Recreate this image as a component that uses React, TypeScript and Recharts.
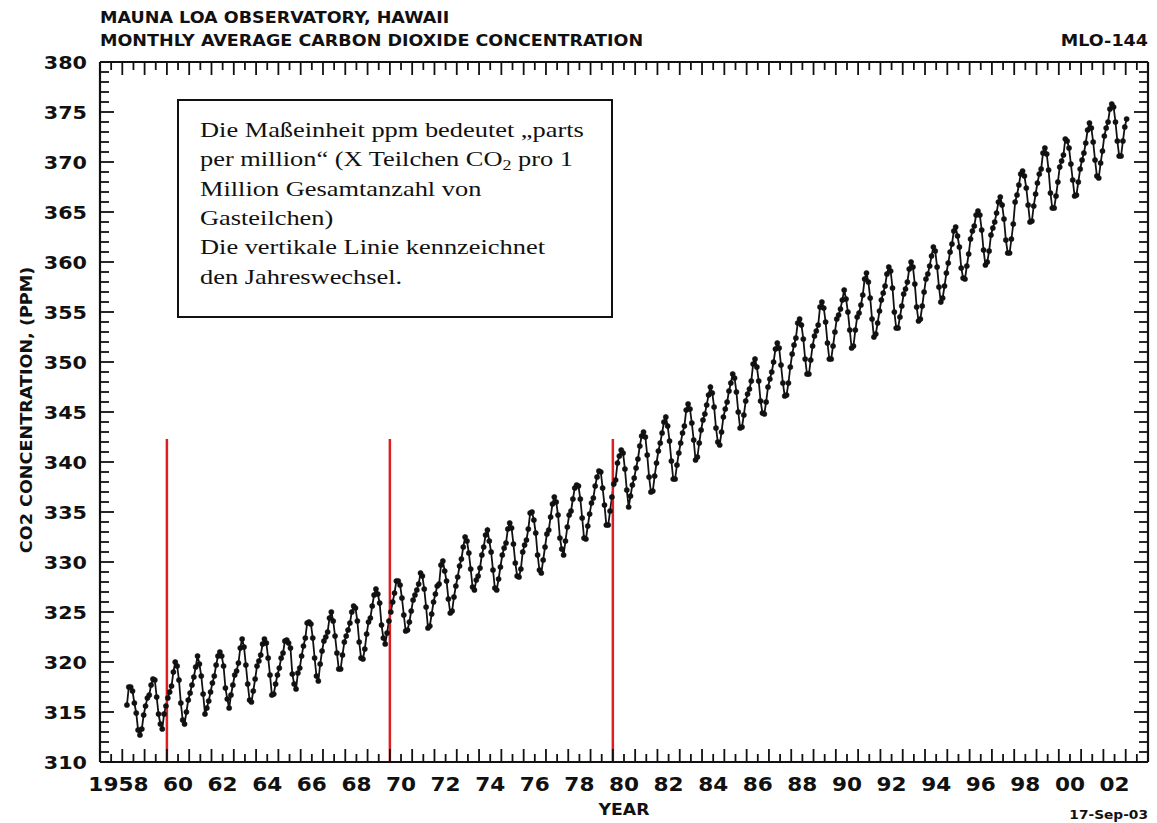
import React from 'react';
import { LineChart, Line, XAxis, YAxis, ReferenceLine } from 'recharts';

// Monthly average CO2 (ppm) at Mauna Loa. 1958 starts in March.
const y1958 = [315.7, 317.5, 317.5, 317.1, 315.9, 314.9, 313.2, 312.7, 313.3, 314.7];
const y1959 = [315.6, 316.4, 316.7, 317.7, 318.3, 318.2, 316.5, 314.8, 313.8, 313.3, 314.8, 315.6];
const y1960 = [316.4, 317.0, 317.6, 319.0, 320.0, 319.6, 318.2, 315.9, 314.2, 313.8, 315.0, 316.2];
const y1961 = [316.9, 317.7, 318.5, 319.5, 320.6, 319.8, 318.6, 316.8, 314.8, 315.4, 316.1, 317.0];
const y1962 = [317.9, 318.6, 319.7, 320.6, 321.0, 320.6, 319.6, 317.4, 316.3, 315.4, 316.7, 317.7];
const y1963 = [318.7, 319.1, 319.9, 321.4, 322.3, 321.5, 319.7, 317.8, 316.2, 316.0, 317.1, 318.3];
const y1964 = [319.6, 320.1, 320.7, 321.8, 322.3, 321.9, 320.4, 318.7, 316.7, 316.8, 317.8, 318.7];
const y1965 = [319.4, 320.4, 320.9, 322.1, 322.2, 321.9, 321.4, 318.8, 317.8, 317.3, 318.9, 319.4];
const y1966 = [320.6, 321.6, 322.4, 323.9, 324.0, 323.8, 322.4, 320.4, 318.6, 318.1, 319.8, 321.1];
const y1967 = [322.1, 322.5, 323.0, 324.4, 325.0, 324.1, 322.6, 320.9, 319.3, 319.3, 320.7, 322.0];
const y1968 = [322.6, 323.2, 323.9, 325.0, 325.6, 325.4, 324.1, 322.0, 320.4, 320.3, 321.3, 322.8];
const y1969 = [324.0, 324.4, 325.6, 326.7, 327.3, 326.8, 325.9, 323.7, 322.4, 321.8, 322.9, 324.1];
const y1970 = [325.0, 326.0, 326.9, 328.1, 328.1, 327.7, 326.4, 324.7, 323.1, 323.2, 324.0, 325.1];
const y1971 = [326.2, 326.7, 327.2, 327.8, 328.9, 328.6, 327.3, 325.5, 323.4, 323.6, 324.8, 326.0];
const y1972 = [326.8, 327.6, 327.8, 329.7, 330.1, 329.1, 328.1, 326.3, 324.9, 325.1, 326.5, 327.6];
const y1973 = [328.5, 329.6, 330.3, 331.5, 332.5, 332.1, 330.9, 329.3, 327.5, 327.2, 328.2, 328.6];
const y1974 = [329.4, 330.7, 331.5, 332.7, 333.2, 332.1, 331.0, 329.2, 327.4, 327.2, 328.3, 329.5];
const y1975 = [330.7, 331.4, 331.9, 333.3, 333.9, 333.4, 331.8, 329.9, 328.6, 328.5, 329.3, 331.0];
const y1976 = [331.7, 332.2, 333.3, 334.9, 335.0, 334.2, 332.9, 330.7, 329.2, 328.9, 330.2, 331.5];
const y1977 = [332.8, 333.2, 334.5, 335.8, 336.5, 336.0, 334.7, 332.4, 331.3, 330.7, 332.1, 333.5];
const y1978 = [334.7, 335.1, 336.3, 337.4, 337.7, 337.6, 336.3, 334.4, 332.4, 332.3, 333.6, 334.8];
const y1979 = [335.9, 336.4, 337.6, 338.5, 339.1, 339.0, 337.4, 335.7, 333.7, 333.7, 335.1, 336.5];
const y1980 = [337.8, 338.2, 339.9, 340.6, 341.2, 340.9, 339.3, 337.2, 335.5, 336.6, 337.7, 338.4];
const y1981 = [339.4, 340.3, 341.6, 342.6, 343.0, 342.5, 340.7, 338.5, 337.0, 337.1, 338.6, 339.9];
const y1982 = [341.1, 341.9, 342.9, 344.0, 344.5, 343.6, 342.1, 340.1, 338.3, 338.3, 339.7, 340.9];
const y1983 = [341.9, 342.9, 343.6, 345.2, 345.8, 345.3, 343.9, 342.2, 340.2, 340.5, 341.9, 343.2];
const y1984 = [344.2, 344.8, 345.7, 346.7, 347.5, 346.9, 345.5, 343.4, 342.0, 341.7, 343.0, 344.5];
const y1985 = [345.3, 346.0, 347.1, 347.9, 348.8, 348.4, 347.0, 345.0, 343.4, 343.5, 344.7, 346.1];
const y1986 = [346.8, 347.3, 348.1, 349.8, 350.3, 349.5, 348.1, 346.1, 344.9, 344.8, 346.0, 347.5];
const y1987 = [348.3, 349.0, 350.0, 351.3, 351.9, 351.4, 349.7, 347.9, 346.6, 346.7, 347.9, 349.5];
const y1988 = [350.8, 351.7, 352.4, 353.9, 354.3, 353.7, 352.3, 350.3, 348.8, 348.8, 350.2, 351.6];
const y1989 = [352.6, 353.1, 353.7, 355.5, 356.0, 355.4, 354.0, 351.9, 350.3, 350.3, 351.6, 353.0];
const y1990 = [354.3, 354.7, 355.3, 356.2, 357.2, 356.3, 355.0, 353.2, 351.4, 351.6, 353.2, 354.5];
const y1991 = [354.9, 355.7, 356.7, 358.3, 358.9, 358.0, 356.4, 354.3, 352.5, 352.8, 353.9, 355.1];
const y1992 = [356.2, 356.9, 357.6, 358.8, 359.5, 359.1, 357.4, 355.0, 353.4, 353.4, 354.5, 355.6];
const y1993 = [356.8, 357.3, 358.0, 359.3, 360.0, 359.5, 357.8, 355.5, 354.1, 354.3, 355.6, 357.0];
const y1994 = [358.3, 358.8, 359.6, 360.6, 361.5, 361.1, 359.5, 357.5, 356.0, 356.4, 357.6, 358.9];
const y1995 = [359.9, 361.0, 361.8, 363.1, 363.5, 362.6, 361.5, 359.4, 358.4, 358.3, 359.6, 360.8];
const y1996 = [362.3, 363.1, 363.6, 364.7, 365.1, 364.7, 363.2, 361.2, 359.7, 360.0, 361.1, 362.7];
const y1997 = [363.4, 364.0, 364.9, 366.0, 366.5, 365.7, 364.3, 362.2, 360.9, 360.9, 362.3, 363.8];
const y1998 = [366.0, 366.7, 367.7, 368.8, 369.1, 368.6, 367.4, 365.7, 364.0, 364.1, 365.6, 366.8];
const y1999 = [367.9, 368.8, 369.3, 370.9, 371.4, 370.8, 369.2, 366.9, 365.4, 365.4, 366.6, 368.0];
const y2000 = [369.5, 370.1, 370.7, 372.3, 372.1, 371.4, 369.8, 368.2, 366.6, 366.7, 368.0, 369.3];
const y2001 = [370.2, 370.9, 371.9, 373.2, 373.9, 373.4, 372.0, 370.2, 368.6, 368.4, 369.9, 371.1];
const y2002 = [372.6, 373.4, 374.0, 375.3, 375.8, 375.5, 374.0, 372.1, 370.6, 370.6, 372.1, 373.5];
const y2003 = [374.3];

const firstYear = 1958;
const firstMonth = 3;
const monthlyByYear = [
  y1958, y1959, y1960, y1961, y1962, y1963, y1964, y1965, y1966, y1967,
  y1968, y1969, y1970, y1971, y1972, y1973, y1974, y1975, y1976, y1977,
  y1978, y1979, y1980, y1981, y1982, y1983, y1984, y1985, y1986, y1987,
  y1988, y1989, y1990, y1991, y1992, y1993, y1994, y1995, y1996, y1997,
  y1998, y1999, y2000, y2001, y2002, y2003,
];

const yearLabelAt = [1958, 1960, 1962, 1964, 1966, 1968, 1970, 1972, 1974, 1976, 1978, 1980,
  1982, 1984, 1986, 1988, 1990, 1992, 1994, 1996, 1998, 2000, 2002];
const yearLabels = ['1958', '60', '62', '64', '66', '68', '70', '72', '74', '76', '78', '80',
  '82', '84', '86', '88', '90', '92', '94', '96', '98', '00', '02'];
const ppmLabels = [310, 315, 320, 325, 330, 335, 340, 345, 350, 355, 360, 365, 370, 375, 380];

// red markers at the year change
const yearChangeMarks = [1960, 1970, 1980];
const markTop = 342.3;

const noteLines = [
  'Die Maßeinheit ppm bedeutet „parts',
  'per million“ (X Teilchen CO',
  'Million Gesamtanzahl von',
  'Gasteilchen)',
  'Die vertikale Linie kennzeichnet',
  'den Jahreswechsel.',
];

const data = monthlyByYear.flatMap((vals, i) => {
  const year = firstYear + i;
  const start = i === 0 ? firstMonth : 1;
  return vals.map((ppm, k) => ({ t: year + (start + k - 0.5) / 12, ppm }));
});

const xDomain = [1957, 2004];
const yDomain = [310, 380];
const halfYearTicks = Array.from({ length: 95 }, (_, i) => 1957 + i * 0.5);
const ppmTicks = Array.from({ length: 71 }, (_, i) => 310 + i);

const ink = '#111';
const sansBold = { fontFamily: '"DejaVu Sans", sans-serif', fontWeight: 700, fill: ink };

const BottomTick = ({ x, y, payload }: any) => {
  const v = payload.value;
  const len = Number.isInteger(v) ? 13 : 8;
  const idx = yearLabelAt.indexOf(v - 0.5);
  return (
    <g>
      <line x1={x} x2={x} y1={y} y2={y - len} stroke={ink} strokeWidth={1.8} />
      {idx >= 0 && (
        <text transform={`translate(${x + 15},${y + 29}) scale(1.08,1)`} textAnchor="end" fontSize={20} style={sansBold}>
          {yearLabels[idx]}
        </text>
      )}
    </g>
  );
};

const TopTick = ({ x, y, payload }: any) => {
  const len = Number.isInteger(payload.value) ? 13 : 8;
  return <line x1={x} x2={x} y1={y} y2={y + len} stroke={ink} strokeWidth={1.8} />;
};

const LeftTick = ({ x, y, payload }: any) => {
  const v = payload.value;
  const labelled = ppmLabels.includes(v);
  return (
    <g>
      <line x1={x} x2={x + (labelled ? 14 : 9)} y1={y} y2={y} stroke={ink} strokeWidth={1.8} />
      {labelled && (
        <text transform={`translate(${x - 13},${y + 6.5}) scale(1.15,1)`} textAnchor="end" fontSize={18} style={sansBold}>
          {v}
        </text>
      )}
    </g>
  );
};

const RightTick = ({ x, y, payload }: any) => {
  const len = ppmLabels.includes(payload.value) ? 14 : 9;
  return <line x1={x} x2={x - len} y1={y} y2={y} stroke={ink} strokeWidth={1.8} />;
};

const frame = { stroke: ink, strokeWidth: 2.2 };

export default function App() {
  return (
    <div style={{ position: 'absolute', left: 0, top: 0, width: 1157, height: 823, background: '#fff' }}>
      <LineChart width={1157} height={823} data={data} margin={{ top: 0, right: 0, bottom: 0, left: 0 }}>
        <XAxis xAxisId="x" dataKey="t" type="number" domain={xDomain} allowDataOverflow ticks={halfYearTicks}
          interval={0} height={61} axisLine={frame} tickLine={false} tickSize={0} tickMargin={0} tick={BottomTick} />
        <XAxis xAxisId="top" orientation="top" dataKey="t" type="number" domain={xDomain} allowDataOverflow
          ticks={halfYearTicks} interval={0} height={62} axisLine={frame} tickLine={false} tickSize={0} tickMargin={0} tick={TopTick} />
        <YAxis yAxisId="y" type="number" domain={yDomain} allowDataOverflow ticks={ppmTicks} interval={0} width={100}
          axisLine={frame} tickLine={false} tickSize={0} tickMargin={0} tick={LeftTick} />
        <YAxis yAxisId="right" orientation="right" type="number" domain={yDomain} allowDataOverflow ticks={ppmTicks}
          interval={0} width={9} axisLine={frame} tickLine={false} tickSize={0} tickMargin={0} tick={RightTick} />
        <Line xAxisId="top" yAxisId="right" dataKey="ppm" stroke="none" dot={false} activeDot={false} isAnimationActive={false} />
        <Line xAxisId="x" yAxisId="y" type="linear" dataKey="ppm" stroke={ink} strokeWidth={1.8}
          dot={{ r: 2.6, fill: ink, stroke: ink, strokeWidth: 0.5 }} activeDot={false} isAnimationActive={false} />
        {yearChangeMarks.map((yr) => (
          <ReferenceLine key={yr} xAxisId="x" yAxisId="y" segment={[{ x: yr, y: markTop }, { x: yr, y: yDomain[0] }]}
            stroke="#dd1f1f" strokeWidth={2.5} />
        ))}
      </LineChart>

      <svg width={1157} height={823} style={{ position: 'absolute', left: 0, top: 0, pointerEvents: 'none' }}>
        <text transform="translate(100,22.7) scale(1.17,1)" fontSize={15} style={sansBold}>MAUNA LOA OBSERVATORY, HAWAII</text>
        <text transform="translate(100,45.7) scale(1.17,1)" fontSize={15} style={sansBold}>MONTHLY AVERAGE CARBON DIOXIDE CONCENTRATION</text>
        <text transform="translate(1148,45.5) scale(1.17,1)" fontSize={15} textAnchor="end" style={sansBold}>MLO-144</text>
        <text transform="translate(31.5,410) rotate(-90) scale(1.1,1)" fontSize={16} textAnchor="middle" style={sansBold}>CO2 CONCENTRATION, (PPM)</text>
        <text transform="translate(624,815) scale(1.15,1)" fontSize={15} textAnchor="middle" style={sansBold}>YEAR</text>
        <text transform="translate(1148,819) scale(1.1,1)" fontSize={12.5} textAnchor="end" style={sansBold}>17-Sep-03</text>

        <rect x={178} y={100} width={434} height={217} fill="#fff" stroke={ink} strokeWidth={2} />
        <g style={{ fontFamily: '"Liberation Serif", "Times New Roman", serif', fill: ink }} fontSize={22}>
          {noteLines.map((line, i) => (
            <text key={i} transform={`translate(200,${136.7 + i * 29.4}) scale(1.2,1)`}>
              {line}
              {i === 1 && (
                <>
                  <tspan fontSize={15} dy={4}>2</tspan>
                  <tspan dy={-4}>{' pro 1'}</tspan>
                </>
              )}
            </text>
          ))}
        </g>
      </svg>
    </div>
  );
}
